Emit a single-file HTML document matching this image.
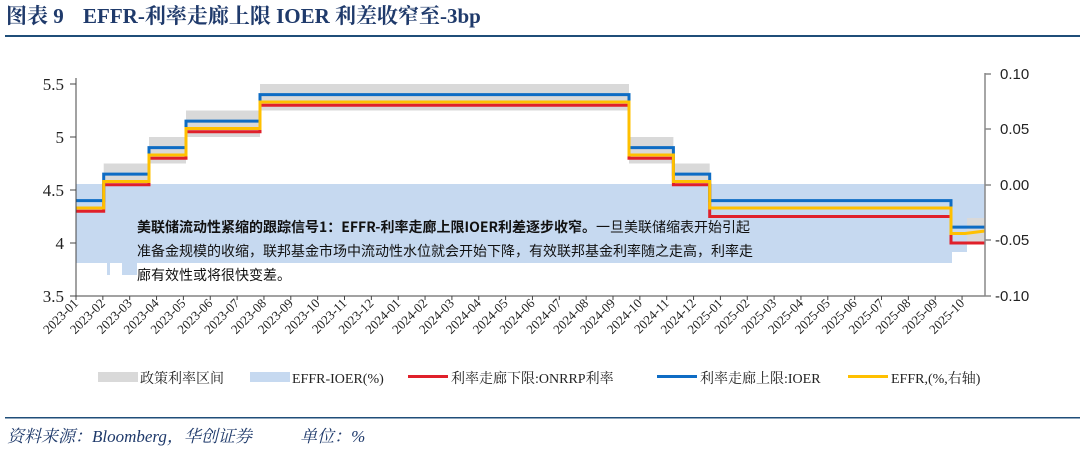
<!DOCTYPE html>
<html><head><meta charset="utf-8">
<style>
html,body{margin:0;padding:0;background:#fff;}
body{width:1080px;height:448px;overflow:hidden;position:relative;}
</style></head>
<body>
<svg width="1080" height="448" viewBox="0 0 1080 448" xmlns="http://www.w3.org/2000/svg">
<text x="6" y="23" font-family="Liberation Serif,'Noto Serif CJK SC',serif" font-size="21" font-weight="bold" fill="#1f3a6b">图表 9 <tspan dx="14">EFFR-利率走廊上限 IOER 利差收窄至-3bp</tspan></text>
<rect x="5" y="35" width="1075" height="2" fill="#1f4e79"/>

<g fill="#d9d9d9">
<rect x="103.7" y="163.5" width="45.3" height="26.5"/>
<rect x="149" y="137" width="37" height="26.5"/>
<rect x="186" y="110.5" width="74" height="26.5"/>
<rect x="260" y="84" width="369" height="26.5"/>
<rect x="629" y="137" width="44.4" height="26.5"/>
<rect x="673.4" y="163.5" width="36.3" height="26.5"/>
<rect x="951" y="217" width="34" height="26"/>
</g>
<path d="M76,184 H985 V218 H967 V252 H952 V263 H137 V275 H122 V263 H110 V275 H107 V263 H76 Z" fill="#c6d9f0"/>

<g fill="none" stroke-width="3" stroke-linejoin="miter">
<path stroke="#e0202a" d="M76,211.2 H103.7 V184.7 H149 V158.2 H186 V131.7 H260 V105.2 H629 V158.2 H673.4 V184.7 H709.7 V216.5 H951 V243 H985"/>
<path stroke="#0e6cc4" d="M76,200.6 H103.7 V174.1 H149 V147.6 H186 V121.1 H260 V94.6 H629 V147.6 H673.4 V174.1 H709.7 V200.6 H951 V227.1 H985"/>
<path stroke="#ffc000" d="M76,208 H103.7 V181.5 H149 V155 H186 V128.5 H260 V102 H629 V155 H673.4 V181.5 H709.7 V208 H951 V233.5 L965,233.5 L985,231"/>
</g>

<g stroke="#444" stroke-width="1" fill="none">
<path d="M76,78 V296 H985"/>
<path d="M70,84 H76 M70,137 H76 M70,190 H76 M70,243 H76 M70,296 H76"/>
</g>
<path d="M985,73 V296 M985,74 H991 M985,129 H991 M985,185 H991 M985,240 H991 M985,296 H991" stroke="#888" stroke-width="1.5" fill="none"/>
<g font-family="Liberation Serif,serif" font-size="17" fill="#222" text-anchor="end">
<text x="64" y="90">5.5</text><text x="64" y="143">5</text><text x="64" y="196">4.5</text><text x="64" y="249">4</text><text x="64" y="302">3.5</text>
</g>
<g font-family="Liberation Sans,sans-serif" font-size="15" fill="#222">
<text x="1000" y="79">0.10</text><text x="1000" y="134">0.05</text><text x="1000" y="190">0.00</text><text x="995" y="245">-0.05</text><text x="995" y="301">-0.10</text>
</g>
<g id="xt" font-family="Liberation Serif,serif" font-size="13" fill="#222" text-anchor="end"></g>
<g id="xtk" stroke="#444" stroke-width="1"></g>

<g font-family="'Noto Sans CJK SC',sans-serif" font-size="14" fill="#111">
<text x="137" y="232"><tspan font-weight="bold">美联储流动性紧缩的跟踪信号1：EFFR-利率走廊上限IOER利差逐步收窄。</tspan>一旦美联储缩表开始引起</text>
<text x="137" y="256">准备金规模的收缩，联邦基金市场中流动性水位就会开始下降，有效联邦基金利率随之走高，利率走</text>
<text x="137" y="280">廊有效性或将很快变差。</text>
</g>

<rect x="98" y="372" width="40" height="10" fill="#d9d9d9"/>
<rect x="250" y="372" width="40" height="10" fill="#c6d9f0"/>
<rect x="408" y="375" width="40" height="3" fill="#e0202a"/>
<rect x="657" y="375" width="40" height="3" fill="#0e6cc4"/>
<rect x="848" y="375" width="40" height="3" fill="#ffc000"/>
<g font-family="Liberation Serif,'Noto Serif CJK SC',serif" font-size="14" fill="#222">
<text x="140" y="383">政策利率区间</text>
<text x="292" y="383">EFFR-IOER(%)</text>
<text x="451" y="383">利率走廊下限:ONRRP利率</text>
<text x="700" y="383">利率走廊上限:IOER</text>
<text x="891" y="383">EFFR,(%,右轴)</text>
</g>

<rect x="5" y="417" width="1075" height="1.5" fill="#1f4e79"/>
<text x="7" y="442" font-family="Liberation Serif,'Noto Serif CJK SC',serif" font-size="17" font-style="italic" fill="#1f3a6b">资料来源：Bloomberg，华创证券 <tspan dx="44">单位：%</tspan></text>
</svg>
<script>
var g=document.getElementById('xt'),t=document.getElementById('xtk'),ns='http://www.w3.org/2000/svg';
for(var i=0;i<34;i++){var y=2023+Math.floor(i/12),m=i%12+1;var x=76+i*26.85;
var e=document.createElementNS(ns,'text');e.setAttribute('transform','translate('+(x+3)+',304) rotate(-45)');
e.textContent=y+'-'+(m<10?'0':'')+m;g.appendChild(e);
var l=document.createElementNS(ns,'line');l.setAttribute('x1',x);l.setAttribute('x2',x);l.setAttribute('y1',296);l.setAttribute('y2',300);t.appendChild(l);}
</script>
</body></html>
